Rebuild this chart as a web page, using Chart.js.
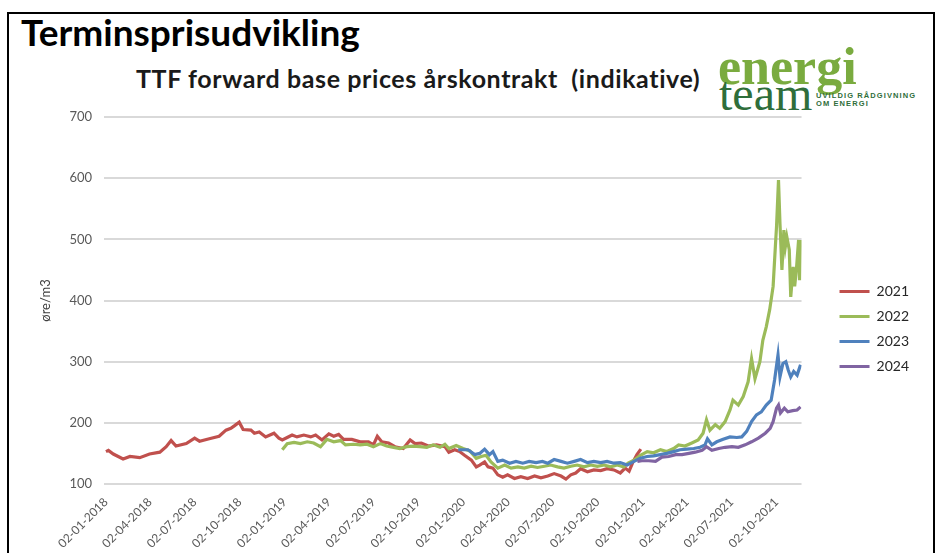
<!DOCTYPE html>
<html>
<head>
<meta charset="utf-8">
<title>Terminsprisudvikling</title>
<script src="https://cdn.jsdelivr.net/npm/chart.js@4.4.0/dist/chart.umd.min.js"></script>
<style>
    body { margin: 0; background: #fff; }
    #page { position: relative; width: 936px; height: 553px; overflow: hidden; font-family: Lato, sans-serif; }
    #frame { position: absolute; left: 7px; top: 12px; width: 924px; height: 560px; border: 2px solid #000; border-bottom: none; }
    #heading { position: absolute; left: 21px; top: 13px; font-size: 37px; line-height: 1; font-weight: bold; color: #000; white-space: nowrap; }
    #title { position: absolute; left: 136px; top: 66px; font-size: 25px; letter-spacing: 0.6px; line-height: 1; font-weight: bold; color: #1a1a1a; white-space: nowrap; }
    .logo { position: absolute; line-height: 1; white-space: nowrap; font-family: "Liberation Serif", serif; }
    #logo1 { left: 718px; top: 41px; font-size: 52px; font-weight: bold; color: #7aab3f; }
    #logo2 { left: 719px; top: 70px; font-size: 48px; color: #2f6e3b; }
    #logo3 { left: 816px; top: 92px; font-size: 7.5px; line-height: 7.5px; font-weight: bold; letter-spacing: 1.1px; color: #2f6e3b; font-family: "Liberation Sans", sans-serif; }
    #graph { position: absolute; left: 0; top: 0; }
</style>
</head>
<body>
<div id="page">
    <div id="frame"></div>
    <div id="heading">Terminsprisudvikling</div>
    <div id="title">TTF forward base prices årskontrakt&nbsp; (indikative)</div>
    <div class="logo" id="logo1">energi</div>
    <div class="logo" id="logo2">team</div>
    <div class="logo" id="logo3">UVILDIG RÅDGIVNING<br>OM ENERGI</div>
    <canvas id="graph" width="936" height="553"></canvas>
</div>
<script>
// x values are days counted from 02-01-2018
const tickLabels = ['02-01-2018', '02-04-2018', '02-07-2018', '02-10-2018', '02-01-2019', '02-04-2019',
    '02-07-2019', '02-10-2019', '02-01-2020', '02-04-2020', '02-07-2020', '02-10-2020',
    '02-01-2021', '02-04-2021', '02-07-2021', '02-10-2021'];

const seriesNames = ['2021', '2022', '2023', '2024'];
const seriesColors = ['#c0504d', '#9bbb59', '#4f81bd', '#8064a2'];

const days2021 = [0,5,15,35,49,69,89,110,123,133,143,164,181,191,211,231,245,255,262,272,
    280,296,303,313,326,343,353,360,370,380,390,404,418,428,441,455,465,475,485,502,
    519,536,546,554,563,577,590,607,621,631,644,658,675,692,700,712,722,732,746,756,
    763,773,780,790,800,810,820,834,847,861,875,888,902,915,929,939,949,959,969,983,
    996,1010,1023,1037,1050,1060,1068,1076,1084,1092];
const values2021 = [153,155,149,141,145,143,149,152,161,171,162,166,175,170,174,178,188,191,195,201,
    189,188,183,185,177,183,175,172,176,180,177,180,177,180,172,182,178,181,173,173,
    169,169,164,178,169,167,161,158,172,166,167,162,164,161,152,156,153,147,139,128,
    131,136,128,126,115,111,115,109,112,109,113,110,113,117,113,108,115,118,125,120,
    123,122,125,123,118,126,121,136,148,157];

const days2022 = [360,370,384,397,411,424,438,451,465,479,489,506,519,533,546,560,573,587,600,614,
    627,641,655,668,682,692,700,715,729,743,756,766,776,786,800,814,827,841,854,868,
    881,895,908,922,935,949,962,976,990,1003,1017,1030,1044,1057,1066,1078,1091,1105,1118,1132,
    1145,1159,1169,1182,1196,1209,1219,1226,1233,1244,1253,1264,1274,1280,1291,1301,1311,1318,1325,1335,
    1341,1348,1355,1362,1367,1369,1373,1376,1380,1384,1387,1390,1395,1398,1403,1406,1410,1414,1416,1418];
const values2022 = [156,166,168,166,169,167,161,173,169,171,164,165,164,165,161,166,162,160,158,161,
    162,161,160,164,160,165,158,163,158,154,142,145,147,136,126,131,126,128,126,129,
    127,129,131,128,126,129,131,128,131,129,131,128,131,128,134,139,147,153,151,156,
    153,158,164,162,167,172,183,205,188,197,191,202,221,237,229,243,267,305,272,300,
    335,357,385,423,494,521,597,526,450,515,488,504,483,406,455,423,455,499,433,499];

const days2023 = [719,726,739,753,763,773,783,790,800,810,824,837,851,864,878,891,902,915,929,942,
    956,969,983,996,1010,1023,1037,1050,1064,1078,1091,1105,1118,1132,1145,1159,1172,1186,1200,1213,
    1223,1228,1237,1247,1260,1274,1288,1298,1308,1318,1328,1338,1348,1358,1365,1372,1376,1382,1388,1393,
    1398,1404,1411,1418];
const values2023 = [156,156,156,148,150,157,148,153,137,139,134,137,134,137,135,137,134,140,137,134,
    137,140,135,137,135,137,134,135,131,137,142,145,146,148,150,153,156,157,158,160,
    164,174,164,169,173,177,176,177,186,202,213,218,229,237,270,311,275,297,300,286,
    275,284,278,295];

const days2024 = [1085,1094,1108,1122,1135,1149,1163,1176,1190,1203,1217,1226,1237,1251,1264,1278,1291,1305,1318,1332,
    1346,1356,1362,1369,1373,1377,1385,1392,1402,1411,1418];
const values2024 = [137,138,138,137,144,145,148,148,150,152,155,161,155,158,160,161,160,164,169,175,
    183,191,202,224,229,216,224,218,220,221,226];

function dayOf(label) {
    const [d, m, y] = label.split('-').map(Number);
    return (Date.UTC(y, m - 1, d) - Date.UTC(2018, 0, 2)) / 864e5;
}
const tickDays = tickLabels.map(dayOf);

function points(days, values) {
    return days.map((d, i) => ({x: d, y: values[i]}));
}

const allDays = [days2021, days2022, days2023, days2024];
const allValues = [values2021, values2022, values2023, values2024];

const font = 'Lato';

// the legend block sits a little above the middle in the original
const liftLegend = {
    id: 'liftLegend',
    afterLayout(chart) {
        chart.legend.top -= 6;
        chart.legend.bottom -= 6;
    }
};

new Chart(
    document.querySelector('#graph'),
{
    type: 'line',
    data: {
        datasets: seriesNames.map((name, i) => ({
            label: name,
            borderColor: seriesColors[i],
            backgroundColor: seriesColors[i],
            borderWidth: 3.2,
            radius: 0,
            tension: 0,
            order: 4 - i,
            data: points(allDays[i], allValues[i])
        }))
    },
    plugins: [liftLegend],
    options: {
        responsive: false,
        animation: false,
        layout: {
            padding: {top: 117, left: 38, right: 17, bottom: 0}
        },
        plugins: {
            legend: {
                position: 'right',
                labels: {
                    usePointStyle: true,
                    pointStyle: 'line',
                    pointStyleWidth: 30,
                    padding: 11,
                    color: '#262626',
                    font: {family: font, size: 14},
                    sort: (a, b) => a.datasetIndex - b.datasetIndex
                }
            },
            tooltip: {enabled: false}
        },
        scales: {
            x: {
                type: 'linear',
                min: -4,
                max: 1420,
                afterBuildTicks: s => { s.ticks = tickDays.map(v => ({value: v})); },
                afterFit: s => { s.height = 69; },
                ticks: {
                    autoSkip: false,
                    minRotation: 45,
                    maxRotation: 45,
                    padding: 3,
                    color: '#595959',
                    font: {family: font, size: 12},
                    callback: v => tickLabels[tickDays.indexOf(v)]
                },
                grid: {display: false},
                border: {display: false}
            },
            y: {
                min: 100,
                max: 700,
                afterFit: s => { s.width = 66; },
                ticks: {
                    stepSize: 100,
                    padding: 12,
                    color: '#595959',
                    font: {family: font, size: 13}
                },
                grid: {color: '#d9d9d9', lineWidth: 2, drawTicks: false},
                border: {display: false},
                title: {
                    display: true,
                    text: 'øre/m3',
                    padding: 0,
                    color: '#404040',
                    font: {family: font, size: 13}
                }
            },
            gap: {
                position: 'right',
                afterFit: s => { s.width = 27; },
                ticks: {display: false},
                grid: {display: false},
                border: {display: false}
            }
        }
    }
});
</script>
</body>
</html>
